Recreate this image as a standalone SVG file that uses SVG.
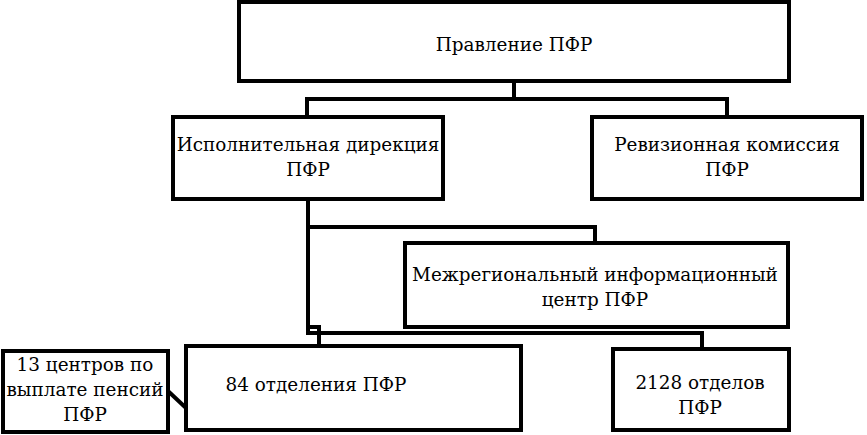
<svg xmlns="http://www.w3.org/2000/svg" width="867" height="435" viewBox="0 0 867 435">
<style>
.box{fill:#fff;stroke:#000;stroke-width:4}
.t{font-family:'DejaVu Serif',serif;font-size:18.4px;fill:#000;text-anchor:middle}
.c{fill:none;stroke:#000;stroke-width:4}
</style>
<rect width="867" height="435" fill="#fff"/>
<g id="connectors">
<path class="c" d="M514 82V99M307 116V99H727V116"/>
<path class="c" d="M308 200V333H702V349"/>
<path class="c" d="M308 227H595V243"/>
<path class="c" d="M308 327H319V345"/>
<path class="c" d="M168 391L186 408"/>
</g>
<g id="n1"><rect class="box" x="239" y="2" width="550" height="79"/><text class="t" x="514" y="51">Правление ПФР</text></g>
<g id="n2"><rect class="box" x="173" y="117" width="270" height="82"/><text class="t" x="308" y="151">Исполнительная дирекция</text><text class="t" x="308" y="176">ПФР</text></g>
<g id="n3"><rect class="box" x="592" y="117" width="270" height="82"/><text class="t" x="727" y="151">Ревизионная комиссия</text><text class="t" x="727" y="176">ПФР</text></g>
<g id="n4"><rect class="box" x="405" y="243" width="383" height="84"/><text class="t" x="595" y="281">Межрегиональный информационный</text><text class="t" x="595" y="306">центр ПФР</text></g>
<g id="n5"><rect class="box" x="186" y="346" width="335" height="84"/><text class="t" x="316" y="391">84 отделения ПФР</text></g>
<g id="n6"><rect class="box" x="613" y="349" width="176" height="81"/><text class="t" x="700" y="389">2128 отделов</text><text class="t" x="700" y="414">ПФР</text></g>
<g id="n7"><rect class="box" x="3" y="351" width="165" height="81"/><text class="t" x="85" y="371">13 центров по</text><text class="t" x="85" y="396">выплате пенсий</text><text class="t" x="85" y="421">ПФР</text></g>
</svg>
